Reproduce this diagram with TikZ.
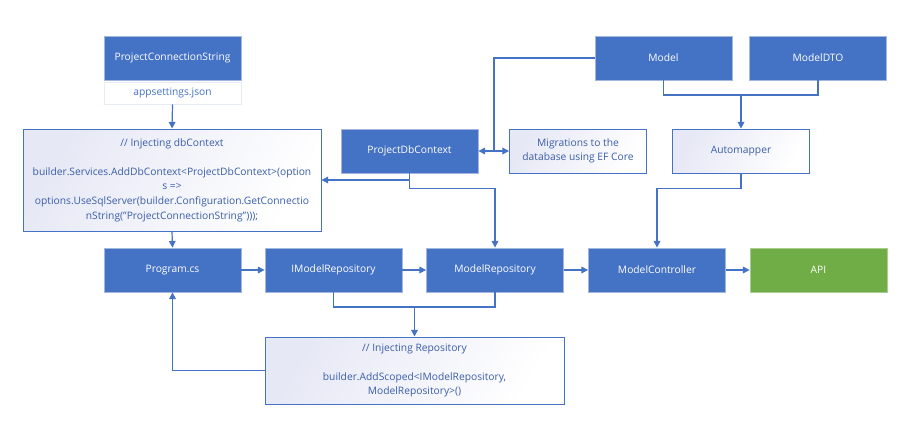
\documentclass[tikz,border=0pt]{standalone}
\usepackage{fontspec}
\setmainfont{Open Sans}
\usepackage{tikz}
\usetikzlibrary{arrows.meta}
\definecolor{mblue}{HTML}{4472C4}
\definecolor{mgreen}{HTML}{70AD47}
\definecolor{tblue}{HTML}{3A5EA8}
\definecolor{edgeblue}{HTML}{A3B6E0}
\definecolor{lav}{HTML}{E6E8F5}
\tikzstyle{arrow} = [mblue,line width=0.9pt,-{Triangle[length=5pt,width=5pt]}]
\tikzstyle{line} = [mblue,line width=0.9pt]

\begin{document}
\begin{tikzpicture}[
            x=0.75pt, y=-0.75pt,
            every node/.style={inner sep=0pt, align=center, font=\fontsize{7.7}{10.9}\selectfont},
            bluebox/.style={draw=edgeblue, line width=0.6pt, fill=mblue, text=white, minimum width=102.75pt, minimum height=33pt},
            greenbox/.style={bluebox, draw=mgreen!60!white, fill=mgreen},
            notebox/.style={draw=mblue, line width=0.7pt, left color=lav, right color=white, shading angle=60, text=tblue, minimum width=102.75pt, minimum height=33pt}
        ]
            \useasboundingbox (0,0) rectangle (913,440);
            % top left
            \node[bluebox] (pcs) at (172.5,58) {ProjectConnectionString};
            \node[draw=lav!80!mblue!40, line width=0.6pt, text=mblue, minimum width=102.75pt, minimum height=16.5pt] (appset) at (172.5,93) {appsettings.json};
            \node[notebox, minimum width=223.5pt, minimum height=76.5pt] (injdb) at (172,180)
                {// Injecting dbContext\\[10.9pt]
                 builder.Services.AddDbContext<ProjectDbContext>(option\\
                 s =>\\
                 options.UseSqlServer(builder.Configuration.GetConnectio\\
                 nString("ProjectConnectionString")));};
            % database and mapping
            \node[bluebox] (pdb) at (409.5,151) {ProjectDbContext};
            \node[notebox] (mig) at (578,151) {Migrations to the\\database using EF Core};
            \node[bluebox] (model) at (663.5,58) {Model};
            \node[bluebox] (dto) at (818,58) {ModelDTO};
            \node[notebox] (auto) at (741,151) {Automapper};
            % main row
            \node[bluebox] (prog) at (172.5,270) {Program.cs};
            \node[bluebox] (irepo) at (333.5,270) {IModelRepository};
            \node[bluebox] (repo) at (495,270) {ModelRepository};
            \node[bluebox] (ctrl) at (657,270) {ModelController};
            \node[greenbox] (api) at (818.5,270) {API};
            \node[notebox, minimum width=224.25pt, minimum height=50.25pt] (injrepo) at (414.5,370.5)
                {// Injecting Repository\\[10.9pt]
                 builder.AddScoped<IModelRepository,\\
                 ModelRepository>()};
            \coordinate (dbjoin) at (494,151);
            \coordinate (mjoin) at (741,95);
            \coordinate (rjoin) at (414.5,307);

            \draw[arrow] (appset.south) -- (injdb.north);
            \draw[arrow] (injdb.south) -- (prog.north);
            \draw[arrow] (prog.east) -- (irepo.west);
            \draw[arrow] (irepo.east) -- (repo.west);
            \draw[arrow] (repo.east) -- (ctrl.west);
            \draw[arrow] (ctrl.east) -- (api.west);
            \draw[arrow] (pdb.south) |- (injdb.east);
            \draw[arrow] (pdb.south) -- ++(0,15) -| (repo.north);
            \draw[arrow, {Triangle[length=5pt,width=5pt]}-{Triangle[length=5pt,width=5pt]}] (pdb.east) -- (mig.west);
            \draw[line] (model.west) -| (dbjoin);
            \draw[line] (model.south) |- (mjoin) -| (dto.south);
            \draw[arrow] (mjoin) -- (auto.north);
            \draw[arrow] (auto.south) -- ++(0,15) -| (ctrl.north);
            \draw[line] (irepo.south) |- (rjoin) -| (repo.south);
            \draw[arrow] (rjoin) -- (injrepo.north);
            \draw[arrow] (injrepo.west) -| (prog.south);
        \end{tikzpicture}
\end{document}
